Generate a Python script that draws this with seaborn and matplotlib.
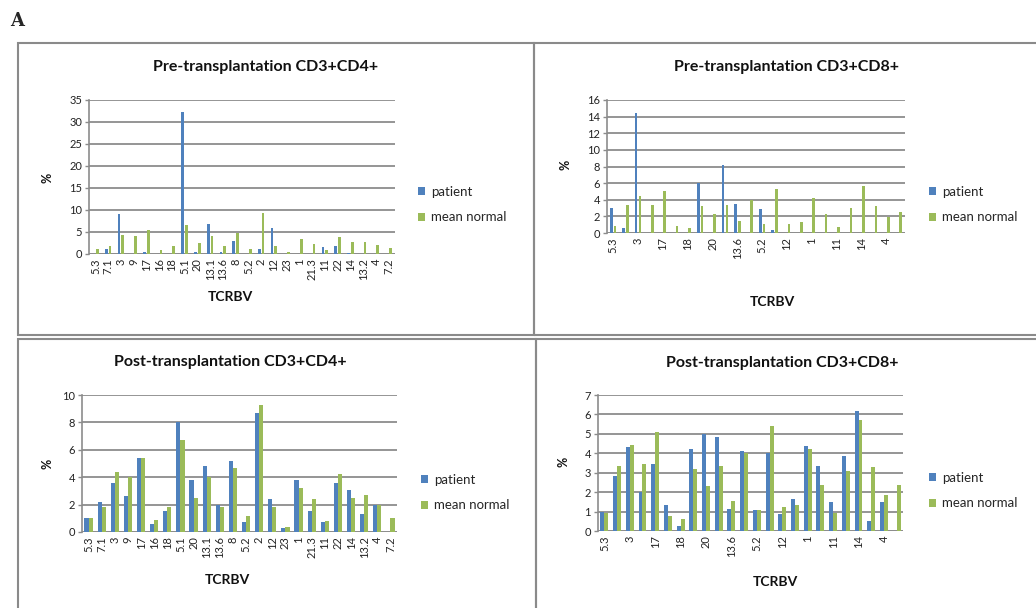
#!/usr/bin/env python
import matplotlib
matplotlib.use('Agg')
import matplotlib.pyplot as plt
from matplotlib.patches import Rectangle
import pandas as pd
import seaborn as sns

# TCRBV families, same order in every panel
cats = ['5.3', '7.1', '3', '9', '17', '16', '18', '5.1', '20', '13.1', '13.6', '8',
        '5.2', '2', '12', '23', '1', '21.3', '11', '22', '14', '13.2', '4', '7.2']

pre_cd4_patient = [0, 1.2, 9.0, 0, 0.4, 0, 0, 32.2, 0.4, 6.9, 0.5, 3.0,
                   0, 1.1, 5.8, 0, 0, 0, 1.5, 1.9, 0.3, 0, 0, 0]
pre_cd4_normal = [1.2, 1.9, 4.3, 4.0, 5.4, 0.8, 1.9, 6.5, 2.6, 4.0, 1.8, 4.8,
                  1.1, 9.4, 1.8, 0.4, 3.3, 2.2, 0.9, 3.9, 2.7, 2.7, 2.0, 1.3]

pre_cd8_patient = [3.0, 0.6, 14.4, 0, 0, 0, 0, 6.0, 0, 8.2, 3.5, 0,
                   2.9, 0.4, 0, 0, 0, 0, 0, 0, 0, 0, 0, 0]
pre_cd8_normal = [0.8, 3.4, 4.4, 3.4, 5.0, 0.8, 0.6, 3.2, 2.3, 3.4, 1.5, 4.0,
                  1.1, 5.3, 1.1, 1.3, 4.2, 2.3, 0.7, 3.0, 5.7, 3.2, 1.9, 2.5]

post_cd4_patient = [1.0, 2.2, 3.6, 2.6, 5.4, 0.6, 1.5, 8.0, 3.8, 4.8, 2.0, 5.2,
                    0.7, 8.7, 2.4, 0.3, 3.8, 1.5, 0.7, 3.6, 3.1, 1.3, 2.0, 0]
post_cd4_normal = [1.0, 1.8, 4.4, 4.0, 5.4, 0.9, 1.8, 6.7, 2.5, 4.0, 1.8, 4.7,
                   1.2, 9.3, 1.8, 0.4, 3.2, 2.4, 0.8, 4.2, 2.5, 2.7, 2.0, 1.0]

post_cd8_patient = [1.0, 2.85, 4.3, 2.0, 3.45, 1.35, 0.25, 4.2, 5.0, 4.85, 1.15, 4.1,
                    1.1, 4.0, 0.85, 1.65, 4.35, 3.35, 1.5, 3.85, 6.2, 0.5, 1.5, 0]
post_cd8_normal = [0.95, 3.35, 4.45, 3.45, 5.1, 0.75, 0.6, 3.2, 2.3, 3.35, 1.55, 4.0,
                   1.1, 5.4, 1.25, 1.35, 4.2, 2.35, 0.95, 3.1, 5.7, 3.3, 1.85, 2.35]

W, H = 1036, 608
colors = {'patient': '#4f81bd', 'mean normal': '#9bbb59'}
grid_c = '#8c8c8c'

sns.set_style('white')
plt.rcParams['font.family'] = ['Lato', 'DejaVu Sans']

fig = plt.figure(figsize=(W / 100, H / 100), dpi=100)


def px(x, y):
    return x / W, 1 - y / H


def panel(rect, patient, normal, title, title_xy, ymax, ystep, every_other,
          width, gap, pct_xy, lab_xy, leg_xy):
    l, r, t, b = rect
    ax = fig.add_axes([l / W, 1 - b / H, (r - l) / W, (b - t) / H])
    df = pd.DataFrame({
        'TCRBV': cats * 2,
        'series': ['patient'] * len(cats) + ['mean normal'] * len(cats),
        'value': patient + normal,
    })
    sns.barplot(data=df, x='TCRBV', y='value', hue='series', order=cats,
                hue_order=['patient', 'mean normal'], palette=colors,
                saturation=1, width=width, gap=gap, linewidth=0, ax=ax)
    ax.set_ylim(0, ymax)
    ax.set_yticks(range(0, ymax + 1, ystep))
    ax.yaxis.grid(True, color=grid_c, linewidth=1.3)
    ax.set_axisbelow(True)
    for s in ['top', 'right', 'bottom']:
        ax.spines[s].set_visible(False)
    ax.spines['left'].set_color(grid_c)
    ax.spines['left'].set_linewidth(1.2)
    ax.axhline(0, color=grid_c, linewidth=1.3, zorder=0.5)
    labels = [c if (not every_other or i % 2 == 0) else '' for i, c in enumerate(cats)]
    ax.set_xticks(range(len(cats)))
    ax.set_xticklabels(labels, rotation=90, fontsize=8, color='#222222')
    ax.tick_params(axis='x', length=0, pad=3)
    ax.tick_params(axis='y', length=3, width=1, color=grid_c, labelsize=8,
                   labelcolor='#222222', pad=2, left=True)
    ax.set_xlabel('')
    ax.set_ylabel('')
    # legend outside the plot
    h, lb = ax.get_legend_handles_labels()
    ax.legend(h, lb, loc='upper left', bbox_to_anchor=px(*leg_xy),
              bbox_transform=fig.transFigure, frameon=False, fontsize=9.5,
              handlelength=0.55, handleheight=0.55, handletextpad=0.45,
              labelspacing=1.0, borderpad=0, borderaxespad=0)
    fig.text(*px(*title_xy), title, ha='center', va='center',
             fontsize=11.5, fontweight='bold', color='#111111')
    fig.text(*px(*lab_xy), 'TCRBV', ha='center', va='center',
             fontsize=10, fontweight='bold', color='#111111')
    fig.text(*px(*pct_xy), '%', ha='center', va='center', rotation=90,
             fontsize=9, fontweight='bold', color='#111111')
    return ax


# panel frames
frame_kw = dict(fill=False, edgecolor='#8a8a8a', linewidth=1.5,
                transform=fig.transFigure, figure=fig)
for (x0, y0, x1, y1) in [(18, 43, 534, 335), (534, 43, 1045, 335),
                         (18, 339.5, 536, 620), (536, 339.5, 1045, 620)]:
    fig.patches.append(Rectangle(px(x0, y1), (x1 - x0) / W, (y1 - y0) / H, **frame_kw))

panel((89, 395, 100, 254), pre_cd4_patient, pre_cd4_normal,
      'Pre-transplantation CD3+CD4+', (266, 67), 35, 5, False, 0.6, 0.3,
      (48, 178), (230, 297), (418, 186))
panel((607, 905, 100, 233), pre_cd8_patient, pre_cd8_normal,
      'Pre-transplantation CD3+CD8+', (787, 67), 16, 2, True, 0.6, 0.3,
      (566, 165), (772, 302), (929, 186))
panel((82, 397, 395, 532), post_cd4_patient, post_cd4_normal,
      'Post-transplantation CD3+CD4+', (230, 362), 10, 2, False, 0.62, 0,
      (47, 464), (227, 580), (421, 474))
panel((598, 903, 395, 531), post_cd8_patient, post_cd8_normal,
      'Post-transplantation CD3+CD8+', (782, 363), 7, 1, True, 0.62, 0,
      (564, 462), (775, 582), (929, 472))

fig.text(*px(10, 21), 'A', ha='left', va='center', fontsize=13,
         fontweight='bold', family=['DejaVu Serif'])

fig.savefig('out.png', dpi=100)
